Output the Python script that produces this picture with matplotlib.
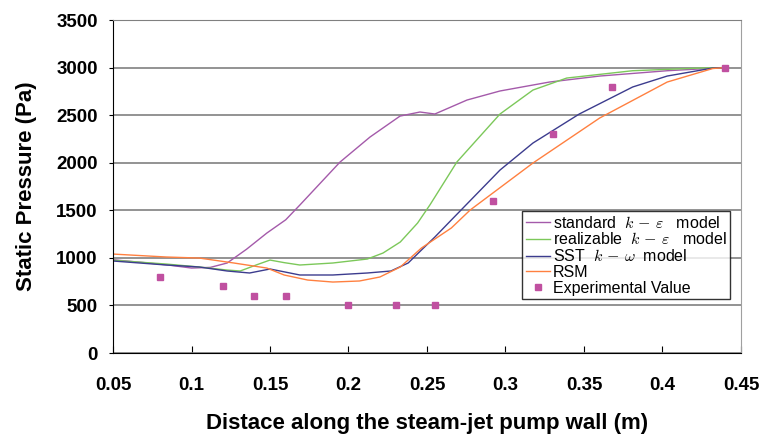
import matplotlib.pyplot as plt

plt.rcParams['font.family'] = ['Liberation Sans', 'DejaVu Sans']
plt.rcParams['mathtext.fontset'] = 'cm'

# standard k-epsilon
std_x = [0.05, 0.07, 0.085, 0.1, 0.112, 0.1227, 0.135, 0.148, 0.16, 0.169, 0.1946, 0.2137, 0.2328, 0.2455,
         0.255, 0.2755, 0.2965, 0.328, 0.36, 0.403, 0.44]
std_y = [980, 950, 925, 893, 900, 946, 1090, 1261, 1400, 1555, 2007, 2270, 2490, 2533,
         2512, 2659, 2754, 2848, 2911, 2967, 3000]

# realizable k-epsilon
real_x = [0.05, 0.084, 0.105, 0.1227, 0.131, 0.142, 0.15, 0.159, 0.169, 0.19, 0.212, 0.222, 0.233, 0.244,
          0.252, 0.269, 0.2965, 0.3175, 0.339, 0.381, 0.424, 0.44]
real_y = [975, 935, 904, 872, 862, 930, 977, 950, 925, 946, 988, 1051, 1167, 1366,
          1560, 2007, 2512, 2764, 2890, 2967, 2995, 3000]

# SST k-omega
sst_x = [0.05, 0.084, 0.105, 0.1227, 0.137, 0.15, 0.16, 0.169, 0.19, 0.212, 0.227, 0.238, 0.2465, 0.255,
         0.2655, 0.2965, 0.3175, 0.347, 0.381, 0.403, 0.432, 0.44]
sst_y = [967, 925, 904, 862, 841, 883, 850, 820, 820, 841, 862, 946, 1083, 1219,
         1398, 1923, 2207, 2512, 2796, 2911, 2995, 3000]

# RSM
rsm_x = [0.05, 0.084, 0.105, 0.127, 0.148, 0.159, 0.174, 0.19, 0.207, 0.22, 0.233, 0.2465, 0.2655, 0.2775,
         0.3175, 0.36, 0.403, 0.432, 0.44]
rsm_y = [1040, 1009, 998, 946, 893, 820, 767, 746, 757, 799, 904, 1104, 1314, 1503,
         1997, 2470, 2848, 2990, 3000]

# experimental
exp_x = [0.08, 0.12, 0.14, 0.16, 0.2, 0.23, 0.255, 0.292, 0.33, 0.368, 0.44]
exp_y = [800, 700, 600, 600, 500, 500, 500, 1600, 2300, 2800, 3000]

fig = plt.figure(figsize=(7.61, 4.34), dpi=100)
ax = fig.add_axes([0.1485, 0.1866, 0.8252, 0.7673])

ax.plot(std_x, std_y, color='#A45AAA', lw=1, label=r'standard  $k\,-\,\varepsilon$   model')
ax.plot(real_x, real_y, color='#7CC85A', lw=1, label=r'realizable  $k\,-\,\varepsilon$   model')
ax.plot(sst_x, sst_y, color='#3C3C8E', lw=1, label=r'SST  $k\,-\,\omega$  model')
ax.plot(rsm_x, rsm_y, color='#FF8040', lw=1, label='RSM')
ax.plot(exp_x, exp_y, ls='none', marker='s', ms=4.5, color='#C050A0', label='Experimental Value')

ax.set_xlim(0.05, 0.45)
ax.set_ylim(0, 3500)
ax.set_xticks([0.05, 0.1, 0.15, 0.2, 0.25, 0.3, 0.35, 0.4, 0.45])
ax.set_xticklabels(['0.05', '0.1', '0.15', '0.2', '0.25', '0.3', '0.35', '0.4', '0.45'])
ax.set_yticks(range(0, 3501, 500))
ax.yaxis.grid(True, color='#808080', lw=1.2)
ax.set_axisbelow(True)
ax.tick_params(axis='x', direction='in', length=5, pad=17, labelsize=13.5)
ax.tick_params(axis='y', direction='out', length=3, pad=8, labelsize=13.5)
for lab in ax.get_xticklabels() + ax.get_yticklabels():
    lab.set_fontweight('bold')
ax.spines['top'].set_color('#808080')
ax.spines['right'].set_color('#A0A0A0')

ax.set_xlabel('Distace along the steam-jet pump wall (m)', fontsize=16, fontweight='bold', labelpad=14)
ax.set_ylabel('Static Pressure (Pa)', fontsize=16, fontweight='bold', labelpad=14)

leg = ax.legend(loc='lower right', bbox_to_anchor=(0.982, 0.162), fontsize=11.5, frameon=True, fancybox=False,
                edgecolor='black', handlelength=1.5, handletextpad=0.2, borderpad=0.2, labelspacing=0.05,
                borderaxespad=0)
leg.get_frame().set_linewidth(1)

fig.savefig('out.png')
